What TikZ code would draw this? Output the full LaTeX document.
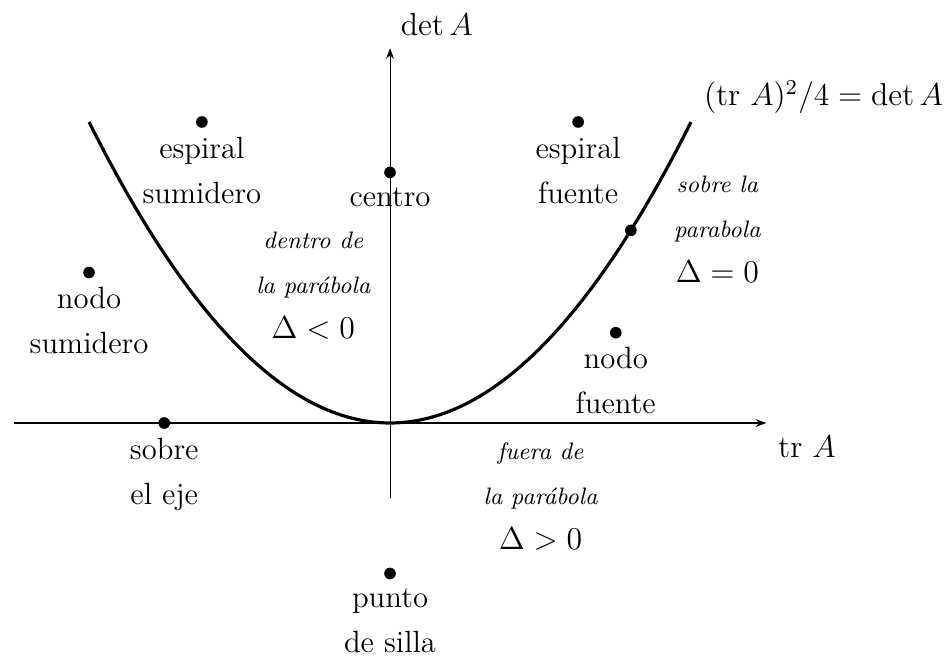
\documentclass[tikz,border=0pt]{standalone}
\usetikzlibrary{arrows.meta, positioning}
\tikzset{dot/.style={circle,fill,inner sep=0pt,minimum size=4.4pt},lbl/.style={align=center,inner sep=1pt,font=\fontsize{11.6}{17}\selectfont},note/.style={lbl,anchor=north},axis/.style={-{Stealth[length=4pt,width=3pt]}}}
\newcommand{\smit}[1]{{\fontsize{9}{17}\selectfont\itshape #1}}

\begin{document}
\begin{tikzpicture}
\useasboundingbox (-5.183,-3.096) rectangle (7.375,5.621);
% ejes
\draw[axis] (-5,0) -- (5,0) coordinate (xend);
\draw[axis] (0,-1) -- (0,4.98) coordinate (yend);
\node[lbl] (trA) at (5.54,-0.32) {$\mathrm{tr}\ A$};
\node[lbl] (detA) at (0.62,5.29) {$\det A$};
% parabola
\draw[very thick] plot[domain=-4:4,samples=80] (\x,{\x*\x/4});
\node[lbl] (eq) at (5.76,4.33) {$(\mathrm{tr}\ A)^2/4=\det A$};
% puntos
\node[dot] (ss) at (-2.5,4) {};
\node[dot] (ce) at (0,3.33) {};
\node[dot] (sf) at (2.5,4) {};
\node[dot] (pa) at (3.2,2.56) {};
\node[dot] (ns) at (-4,2) {};
\node[dot] (nf) at (3,1.2) {};
\node[dot] (ej) at (-3,0) {};
\node[dot] (ps) at (0,-2) {};
\node[lbl, below=2pt of ss] (ssl) {espiral\\sumidero};
\node[lbl, below=2pt of ce] (cel) {centro};
\node[lbl, below=2pt of sf] (sfl) {espiral\\fuente};
\node[lbl, below=2pt of ns] (nsl) {nodo\\sumidero};
\node[lbl, below=2pt of nf] (nfl) {nodo\\fuente};
\node[lbl, below=2pt of ej] (ejl) {sobre\\el eje};
\node[lbl, below=2pt of ps] (psl) {punto\\de silla};
% regiones
\node[note] (dentro) at (-1.02,2.58) {\smit{dentro de}\\\smit{la parábola}\\$\Delta<0$};
\node[note] (sobre) at (4.35,3.32) {\smit{sobre la}\\\smit{parabola}\\$\Delta=0$};
\node[note] (fuera) at (2.0,-0.226) {\smit{fuera de}\\\smit{la parábola}\\$\Delta>0$};
\end{tikzpicture}
\end{document}
